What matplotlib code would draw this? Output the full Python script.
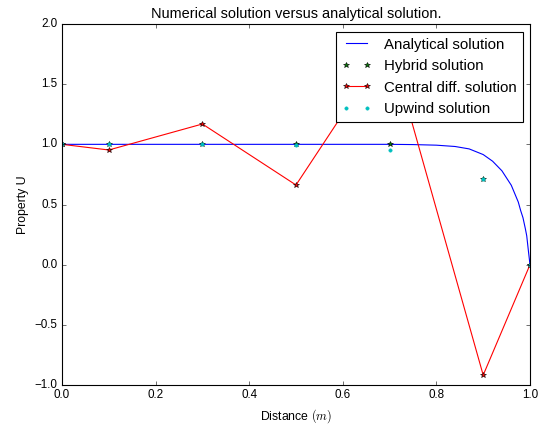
import matplotlib
matplotlib.use('Agg')
import matplotlib.pyplot as plt

# analytical curve
x_exact = [0.0, 0.1, 0.2, 0.3, 0.4, 0.5, 0.6, 0.7, 0.75, 0.8, 0.84, 0.87, 0.9,
           0.92, 0.94, 0.95, 0.96, 0.975, 0.98, 0.985, 0.99, 0.993, 0.997, 1.0]
u_exact = [1.0, 1.0, 1.0, 1.0, 1.0, 1.0, 1.0, 1.0, 0.998, 0.993, 0.982, 0.962, 0.915,
           0.86, 0.78, 0.72, 0.66, 0.52, 0.45, 0.39, 0.30, 0.24, 0.10, 0.0]

# node positions
x_nodes = [0.0, 0.1, 0.3, 0.5, 0.7, 0.9, 1.0]
u_hybrid = [1.0, 1.0, 1.0, 1.0, 1.0, 0.71, 0.0]
u_central = [1.0, 0.953, 1.169, 0.662, 1.84, -0.918, 0.0]
u_upwind = [1.0, 0.9998, 0.9987, 0.9921, 0.9524, 0.7143, 0.0]

plt.style.use('classic')
plt.rcParams['font.family'] = ['Liberation Sans', 'DejaVu Sans']

fig = plt.figure(figsize=(545 / 80, 424 / 80), dpi=80)
ax = fig.add_axes([62 / 545, 39 / 424, 468 / 545, 361 / 424])

ax.plot(x_exact, u_exact, 'b-', label='Analytical solution')
ax.plot(x_nodes, u_hybrid, '*', color='g', markersize=5, label='Hybrid solution')
ax.plot(x_nodes, u_central, 'r*-', markersize=5, label='Central diff. solution')
ax.plot(x_nodes, u_upwind, 'c.', label='Upwind solution')

ax.set_xlim(0, 1)
ax.set_ylim(-1, 2)
ax.set_title('Numerical solution versus analytical solution.', fontsize=13)
ax.set_xlabel('Distance $(m)$', fontsize=11)
ax.set_ylabel('Property U', fontsize=11)
ax.tick_params(labelsize=10.5)
ax.legend(loc='upper right', fontsize=13.5)

fig.savefig('out.png', dpi=80)
